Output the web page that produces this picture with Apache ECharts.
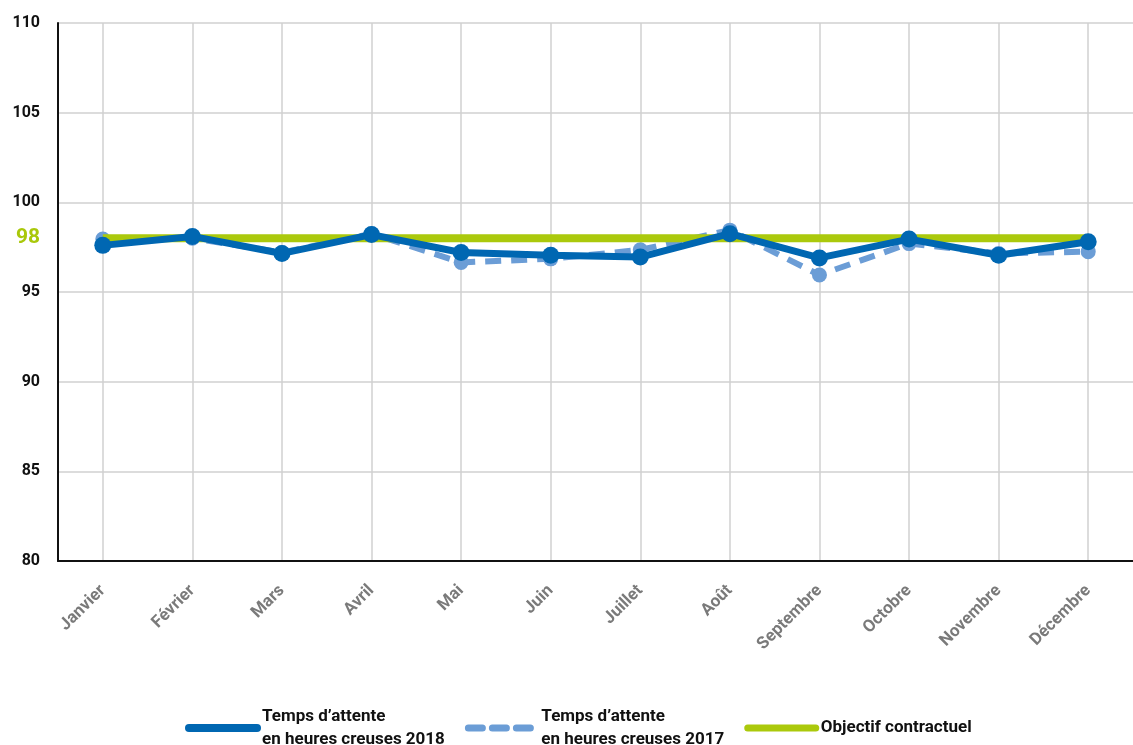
<!DOCTYPE html>
<html>
<head>
<meta charset="utf-8">
<script src="https://cdn.jsdelivr.net/npm/echarts@6/dist/echarts.min.js"></script>
<style>
  html, body { margin: 0; padding: 0; background: #fff; }
  #chart { width: 1133px; height: 745px; }
</style>
</head>
<body>
<div id="chart"></div>
<script>
// mois
const months = ['Janvier', 'Février', 'Mars', 'Avril', 'Mai', 'Juin', 'Juillet', 'Août', 'Septembre', 'Octobre', 'Novembre', 'Décembre'];
// temps d'attente
const attente2018 = [97.6, 98.1, 97.15, 98.2, 97.2, 97.05, 96.95, 98.25, 96.9, 97.95, 97.05, 97.8];
const attente2017 = [97.95, 98.0, 97.2, 98.25, 96.65, 96.85, 97.35, 98.45, 95.95, 97.7, 97.15, 97.25];
const objectif = [98, 98, 98, 98, 98, 98, 98, 98, 98, 98, 98, 98];
const yLabels = [80, 85, 90, 95, 98, 100, 105, 110];

const chart = echarts.init(document.getElementById('chart'));

const option = {
  animation: false,
  textStyle: { fontFamily: 'Roboto, "Liberation Sans", sans-serif' },
  grid: { left: 58, top: 23, width: 1083, bottom: 184 },
  legend: {
    bottom: -11,
    left: 180,
    itemGap: 20,
    itemWidth: 68,
    itemHeight: 10,
    itemStyle: { opacity: 0 },
    textStyle: { color: '#111', fontSize: 17, fontWeight: 'bold', lineHeight: 23 },
    data: [
      { name: 'Temps d\u2019attente\nen heures creuses 2018', lineStyle: { width: 8, cap: 'round' } },
      { name: 'Temps d\u2019attente\nen heures creuses 2017', lineStyle: { width: 7, type: [14, 10], cap: 'round' } },
      { name: 'Objectif contractuel', lineStyle: { width: 7, cap: 'round' } }
    ]
  },
  xAxis: {
    type: 'category',
    data: months,
    boundaryGap: true,
    axisLine: { lineStyle: { color: '#111', width: 2 } },
    axisTick: { show: false, alignWithLabel: true },
    splitLine: { show: true, alignWithLabel: true, lineStyle: { color: '#d0d0d0', width: 1.5 } },
    axisLabel: {
      rotate: 45,
      interval: 0,
      margin: 27,
      color: '#7a7a7a',
      fontSize: 17,
      fontWeight: 'bold'
    }
  },
  yAxis: {
    type: 'value',
    min: 80,
    max: 110,
    interval: 5,
    axisLine: { show: true, lineStyle: { color: '#111', width: 2 } },
    axisTick: { show: false },
    splitLine: { lineStyle: { color: '#d0d0d0', width: 1.5 } },
    axisLabel: {
      customValues: yLabels,
      margin: 18,
      color: '#111',
      fontSize: 16,
      fontWeight: 'bold',
      formatter: v => v === 98 ? '{g|98}' : String(v),
      rich: {
        g: { color: '#a9c80a', fontSize: 21, fontWeight: 'bold' }
      }
    }
  },
  series: [
    {
      name: 'Temps d\u2019attente\nen heures creuses 2018',
      type: 'line',
      data: attente2018,
      z: 4,
      symbol: 'circle',
      symbolSize: 17,
      itemStyle: { color: '#0067b2' },
      lineStyle: { color: '#0067b2', width: 7 }
    },
    {
      name: 'Temps d\u2019attente\nen heures creuses 2017',
      type: 'line',
      data: attente2017,
      z: 2,
      symbol: 'circle',
      symbolSize: 15,
      itemStyle: { color: '#6b9dd6' },
      lineStyle: { color: '#6b9dd6', width: 6, type: [16, 10] }
    },
    {
      name: 'Objectif contractuel',
      type: 'line',
      data: objectif,
      z: 3,
      symbol: 'none',
      itemStyle: { color: '#abc90c' },
      lineStyle: { color: '#abc90c', width: 8 }
    }
  ]
};

chart.setOption(option);
</script>
</body>
</html>
